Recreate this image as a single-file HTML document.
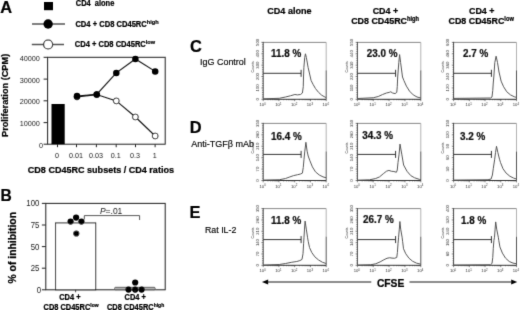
<!DOCTYPE html>
<html><head><meta charset="utf-8"><style>
html,body{margin:0;padding:0;background:#fff;width:520px;height:310px;overflow:hidden}
svg{display:block;font-family:"Liberation Sans", sans-serif}
</style></head><body>
<svg width="520" height="310" viewBox="0 0 520 310" fill="#000">
<defs><filter id="bl" x="0" y="0" width="520" height="310" filterUnits="userSpaceOnUse"><feConvolveMatrix order="3" kernelMatrix="0.0114 0.0841 0.0114 0.0841 0.6178 0.0841 0.0114 0.0841 0.0114" edgeMode="duplicate"/></filter></defs>
<rect width="520" height="310" fill="#fff"/>
<g filter="url(#bl)">
<text transform="translate(0.3,12.6) scale(1,1.04)" font-size="16.4" font-weight="bold" stroke="#000" stroke-width="0.22" fill="#000">A</text>
<rect x="44" y="2" width="9" height="8.2" fill="#000"/>
<line x1="32" y1="24" x2="65" y2="24" stroke="#555" stroke-width="1.4"/>
<circle cx="48.1" cy="24" r="4.7" fill="#000"/>
<line x1="31.8" y1="44.5" x2="64" y2="44.5" stroke="#555" stroke-width="1.4"/>
<circle cx="48.1" cy="44.5" r="4.5" fill="#fff" stroke="#000" stroke-width="1.1"/>
<text transform="translate(75.8,6.0) scale(1,1.1)" font-size="7.45" font-weight="bold" stroke="#000" stroke-width="0.22" fill="#000" xml:space="preserve">CD4  alone</text>
<text transform="translate(75.4,26.9) scale(1,1.1)" font-size="7.6" font-weight="bold" stroke="#000" stroke-width="0.22" fill="#000">CD4 + CD8 CD45RC<tspan font-size="5.6" dy="-2.4">high</tspan></text>
<text transform="translate(74.8,47.1) scale(1,1.1)" font-size="7.55" font-weight="bold" stroke="#000" stroke-width="0.22" fill="#000">CD4 + CD8 CD45RC<tspan font-size="5.6" dy="-2.4">low</tspan></text>
<rect x="47.6" y="57.3" width="117.6" height="86.9" fill="none" stroke="#222" stroke-width="1"/>
<line x1="43.6" y1="57.3" x2="47.6" y2="57.3" stroke="#222" stroke-width="1"/>
<text transform="translate(39.9,60.9) scale(1,1.1)" font-size="7.3" text-anchor="end" fill="#222">40000</text>
<line x1="43.6" y1="79.1" x2="47.6" y2="79.1" stroke="#222" stroke-width="1"/>
<text transform="translate(39.9,82.7) scale(1,1.1)" font-size="7.3" text-anchor="end" fill="#222">30000</text>
<line x1="43.6" y1="100.8" x2="47.6" y2="100.8" stroke="#222" stroke-width="1"/>
<text transform="translate(39.9,104.4) scale(1,1.1)" font-size="7.3" text-anchor="end" fill="#222">20000</text>
<line x1="43.6" y1="122.6" x2="47.6" y2="122.6" stroke="#222" stroke-width="1"/>
<text transform="translate(39.9,126.2) scale(1,1.1)" font-size="7.3" text-anchor="end" fill="#222">10000</text>
<line x1="43.6" y1="144.2" x2="47.6" y2="144.2" stroke="#222" stroke-width="1"/>
<text transform="translate(43.1,147.8) scale(1,1.1)" font-size="7.3" text-anchor="end" fill="#222">0</text>
<line x1="57.5" y1="144.2" x2="57.5" y2="147.2" stroke="#222" stroke-width="1"/>
<text transform="translate(57.1,157.9) scale(1,1.1)" font-size="7.2" text-anchor="middle" fill="#222">0</text>
<line x1="76.5" y1="144.2" x2="76.5" y2="147.2" stroke="#222" stroke-width="1"/>
<text transform="translate(76.1,157.9) scale(1,1.1)" font-size="7.2" text-anchor="middle" fill="#222">0.01</text>
<line x1="96.4" y1="144.2" x2="96.4" y2="147.2" stroke="#222" stroke-width="1"/>
<text transform="translate(96.0,157.9) scale(1,1.1)" font-size="7.2" text-anchor="middle" fill="#222">0.03</text>
<line x1="116.2" y1="144.2" x2="116.2" y2="147.2" stroke="#222" stroke-width="1"/>
<text transform="translate(115.8,157.9) scale(1,1.1)" font-size="7.2" text-anchor="middle" fill="#222">0.1</text>
<line x1="135.5" y1="144.2" x2="135.5" y2="147.2" stroke="#222" stroke-width="1"/>
<text transform="translate(135.1,157.9) scale(1,1.1)" font-size="7.2" text-anchor="middle" fill="#222">0.3</text>
<line x1="155.1" y1="144.2" x2="155.1" y2="147.2" stroke="#222" stroke-width="1"/>
<text transform="translate(154.7,157.9) scale(1,1.1)" font-size="7.2" text-anchor="middle" fill="#222">1</text>
<rect x="51.5" y="104" width="13.2" height="40.2" fill="#000"/>
<polyline points="77,96.9 96.7,94.6 116.3,100.9 135.4,117.0 155.2,136.0" fill="none" stroke="#111" stroke-width="1.1"/>
<polyline points="77,96.0 96.7,94.4 116.3,72.9 135.4,59.0 155.2,71.4" fill="none" stroke="#111" stroke-width="1.1"/>
<circle cx="77" cy="96.9" r="2.9" fill="#fff" stroke="#000" stroke-width="0.9"/>
<circle cx="96.7" cy="94.6" r="2.9" fill="#fff" stroke="#000" stroke-width="0.9"/>
<circle cx="116.3" cy="100.9" r="2.9" fill="#fff" stroke="#000" stroke-width="0.9"/>
<circle cx="135.4" cy="117.0" r="2.9" fill="#fff" stroke="#000" stroke-width="0.9"/>
<circle cx="155.2" cy="136.0" r="2.9" fill="#fff" stroke="#000" stroke-width="0.9"/>
<circle cx="77" cy="96.0" r="3.25" fill="#000"/>
<circle cx="96.7" cy="94.4" r="3.25" fill="#000"/>
<circle cx="116.3" cy="72.9" r="3.25" fill="#000"/>
<circle cx="135.4" cy="59.0" r="3.25" fill="#000"/>
<circle cx="155.2" cy="71.4" r="3.25" fill="#000"/>
<text transform="translate(27.8,172.5) scale(1,1.1)" font-size="9.05" font-weight="bold" stroke="#000" stroke-width="0.22" fill="#000">CD8 CD45RC subsets / CD4 ratios</text>
<text transform="translate(7.5,95.4) rotate(-90) scale(1,1.0)" font-size="9.2" font-weight="bold" stroke="#000" stroke-width="0.22" text-anchor="middle" fill="#000">Proliferation (CPM)</text>
<text transform="translate(0.6,200.6) scale(1,1.04)" font-size="15.6" font-weight="bold" stroke="#000" stroke-width="0.22" fill="#000">B</text>
<rect x="45.8" y="203.4" width="119.4" height="86.4" fill="none" stroke="#222" stroke-width="1"/>
<line x1="41.9" y1="203.4" x2="45.8" y2="203.4" stroke="#222" stroke-width="1"/>
<text transform="translate(39.3,206.4) scale(1,1.1)" font-size="7.8" text-anchor="end" fill="#222">100</text>
<line x1="41.9" y1="225.0" x2="45.8" y2="225.0" stroke="#222" stroke-width="1"/>
<text transform="translate(39.3,228.0) scale(1,1.1)" font-size="7.8" text-anchor="end" fill="#222">75</text>
<line x1="41.9" y1="246.6" x2="45.8" y2="246.6" stroke="#222" stroke-width="1"/>
<text transform="translate(39.3,249.6) scale(1,1.1)" font-size="7.8" text-anchor="end" fill="#222">50</text>
<line x1="41.9" y1="268.2" x2="45.8" y2="268.2" stroke="#222" stroke-width="1"/>
<text transform="translate(39.3,271.2) scale(1,1.1)" font-size="7.8" text-anchor="end" fill="#222">25</text>
<line x1="41.9" y1="289.8" x2="45.8" y2="289.8" stroke="#222" stroke-width="1"/>
<text transform="translate(41.2,292.8) scale(1,1.1)" font-size="7.8" text-anchor="end" fill="#222">0</text>
<rect x="55.6" y="222.9" width="40.1" height="66.9" fill="#fff" stroke="#222" stroke-width="1"/>
<rect x="114.6" y="287.3" width="40.6" height="2.5" rx="1" fill="#b0b0b0" stroke="#444" stroke-width="0.8"/>
<path d="M84.3,219.5V215.6H139.6V220" fill="none" stroke="#444" stroke-width="0.9"/>
<text transform="translate(99.9,213.6) scale(1,1.1)" font-size="8.5" fill="#222"><tspan font-style="italic">P</tspan>=.01</text>
<circle cx="70.6" cy="221.6" r="3.1" fill="#000"/>
<circle cx="81.4" cy="221.6" r="3.1" fill="#000"/>
<circle cx="76.1" cy="217.6" r="3.1" fill="#000"/>
<circle cx="76.3" cy="233.5" r="3.1" fill="#000"/>
<circle cx="135.2" cy="282.5" r="3.1" fill="#000"/>
<circle cx="128.5" cy="289.6" r="3.1" fill="#000"/>
<circle cx="135.2" cy="289.6" r="3.1" fill="#000"/>
<circle cx="141.6" cy="289.6" r="3.1" fill="#000"/>
<line x1="75.6" y1="289.8" x2="75.6" y2="292.3" stroke="#222" stroke-width="0.8"/>
<line x1="134.9" y1="289.8" x2="134.9" y2="292.3" stroke="#222" stroke-width="0.8"/>
<text transform="translate(69.9,300.4) scale(1,1.1)" font-size="7.45" font-weight="bold" stroke="#000" stroke-width="0.22" text-anchor="middle" fill="#000">CD4 +</text>
<text transform="translate(43.5,309.6) scale(1,1.1)" font-size="7.45" font-weight="bold" stroke="#000" stroke-width="0.22" fill="#000">CD8 CD45RC<tspan font-size="5" dy="-2.2">low</tspan></text>
<text transform="translate(135.2,300.4) scale(1,1.1)" font-size="7.45" font-weight="bold" stroke="#000" stroke-width="0.22" text-anchor="middle" fill="#000">CD4 +</text>
<text transform="translate(106.9,309.6) scale(1,1.1)" font-size="7.45" font-weight="bold" stroke="#000" stroke-width="0.22" fill="#000">CD8 CD45RC<tspan font-size="5" dy="-2.2">high</tspan></text>
<text transform="translate(15.5,247.8) rotate(-90) scale(1,1.0)" font-size="10.4" font-weight="bold" stroke="#000" stroke-width="0.22" text-anchor="middle" fill="#000">% of inhibition</text>
<text transform="translate(267.3,13.7) scale(1,1.1)" font-size="9.05" font-weight="bold" stroke="#000" stroke-width="0.22" fill="#000">CD4 alone</text>
<text transform="translate(372.7,13.6) scale(1,1.1)" font-size="8.9" font-weight="bold" stroke="#000" stroke-width="0.22" fill="#000">CD4 +</text>
<text transform="translate(351.2,24) scale(1,1.1)" font-size="8.9" font-weight="bold" stroke="#000" stroke-width="0.22" fill="#000">CD8 CD45RC<tspan font-size="5.7" dy="-2.7">high</tspan></text>
<text transform="translate(469,13.6) scale(1,1.1)" font-size="8.9" font-weight="bold" stroke="#000" stroke-width="0.22" fill="#000">CD4 +</text>
<text transform="translate(448.5,24) scale(1,1.1)" font-size="8.9" font-weight="bold" stroke="#000" stroke-width="0.22" fill="#000">CD8 CD45RC<tspan font-size="5.7" dy="-2.7">low</tspan></text>
<text transform="translate(189.9,51.8) scale(1,1.04)" font-size="16.4" font-weight="bold" stroke="#000" stroke-width="0.22" fill="#000">C</text>
<text transform="translate(200.1,65.1) scale(1,1.05)" font-size="8.95" stroke="#000" stroke-width="0.15" fill="#000">IgG Control</text>
<text transform="translate(189.7,132.6) scale(1,1.04)" font-size="16.4" font-weight="bold" stroke="#000" stroke-width="0.22" fill="#000">D</text>
<text transform="translate(191.2,147.4) scale(1,1.05)" font-size="9.05" stroke="#000" stroke-width="0.15" fill="#000">Anti-TGFβ mAb</text>
<text transform="translate(189.6,217.6) scale(1,1.04)" font-size="16.4" font-weight="bold" stroke="#000" stroke-width="0.22" fill="#000">E</text>
<text transform="translate(205,232.7) scale(1,1.05)" font-size="8.8" stroke="#000" stroke-width="0.15" fill="#000">Rat IL-2</text>
<line x1="266" y1="282" x2="371.3" y2="282" stroke="#666" stroke-width="1.3"/>
<line x1="409.5" y1="282" x2="513" y2="282" stroke="#666" stroke-width="1.3"/>
<path d="M261.9,282L268.2,279.4V284.6Z" fill="#000"/>
<path d="M517.2,282L511.2,279.6V284.4Z" fill="#000"/>
<text transform="translate(376.9,286.7) scale(1,1.1)" font-size="10.3" font-weight="bold" stroke="#000" stroke-width="0.22" fill="#000">CFSE</text>
<line x1="263.2" y1="42.4" x2="326.2" y2="42.4" stroke="#888" stroke-width="1"/>
<line x1="326.2" y1="42.4" x2="326.2" y2="70.3" stroke="#aaa" stroke-width="0.9"/>
<line x1="326.2" y1="70.3" x2="326.2" y2="99.3" stroke="#444" stroke-width="0.9"/>
<line x1="263.2" y1="41.9" x2="263.2" y2="99.3" stroke="#333" stroke-width="0.9"/>
<line x1="263.2" y1="99.3" x2="326.2" y2="99.3" stroke="#333" stroke-width="1"/>
<path d="M261.40,42.40H263.2M262.20,44.68H263.2M262.20,46.95H263.2M262.20,49.23H263.2M262.20,51.50H263.2M261.40,53.78H263.2M262.20,56.06H263.2M262.20,58.33H263.2M262.20,60.61H263.2M262.20,62.88H263.2M261.40,65.16H263.2M262.20,67.44H263.2M262.20,69.71H263.2M262.20,71.99H263.2M262.20,74.26H263.2M261.40,76.54H263.2M262.20,78.82H263.2M262.20,81.09H263.2M262.20,83.37H263.2M262.20,85.64H263.2M261.40,87.92H263.2M262.20,90.20H263.2M262.20,92.47H263.2M262.20,94.75H263.2M262.20,97.02H263.2M261.40,99.30H263.2" stroke="#333" stroke-width="0.6" fill="none"/>
<path d="M263.20,99.3v1.8M267.94,99.3v0.9M270.71,99.3v0.9M272.68,99.3v0.9M274.21,99.3v0.9M275.46,99.3v0.9M276.51,99.3v0.9M277.42,99.3v0.9M278.23,99.3v0.9M278.95,99.3v1.8M283.69,99.3v0.9M286.46,99.3v0.9M288.43,99.3v0.9M289.96,99.3v0.9M291.21,99.3v0.9M292.26,99.3v0.9M293.17,99.3v0.9M293.98,99.3v0.9M294.70,99.3v1.8M299.44,99.3v0.9M302.21,99.3v0.9M304.18,99.3v0.9M305.71,99.3v0.9M306.96,99.3v0.9M308.01,99.3v0.9M308.92,99.3v0.9M309.73,99.3v0.9M310.45,99.3v1.8M315.19,99.3v0.9M317.96,99.3v0.9M319.93,99.3v0.9M321.46,99.3v0.9M322.71,99.3v0.9M323.76,99.3v0.9M324.67,99.3v0.9M325.48,99.3v0.9M326.20,99.3v1.8" stroke="#333" stroke-width="0.6" fill="none"/>
<text transform="translate(258.90,99.30) rotate(-90)" font-size="4.2" text-anchor="middle" fill="#333">0</text>
<text transform="translate(258.90,87.92) rotate(-90)" font-size="4.2" text-anchor="middle" fill="#333">100</text>
<text transform="translate(258.90,76.54) rotate(-90)" font-size="4.2" text-anchor="middle" fill="#333">200</text>
<text transform="translate(258.90,65.16) rotate(-90)" font-size="4.2" text-anchor="middle" fill="#333">300</text>
<text transform="translate(258.90,53.78) rotate(-90)" font-size="4.2" text-anchor="middle" fill="#333">400</text>
<text transform="translate(258.90,42.40) rotate(-90)" font-size="4.2" text-anchor="middle" fill="#333">500</text>
<text transform="translate(253.60,66.87) rotate(-90)" font-size="3.5" text-anchor="middle" fill="#333">Counts</text>
<text x="262.60" y="106.30" font-size="4.2" text-anchor="middle" fill="#333">10<tspan font-size="2.8" dy="-1.6">0</tspan></text>
<text x="278.35" y="106.30" font-size="4.2" text-anchor="middle" fill="#333">10<tspan font-size="2.8" dy="-1.6">1</tspan></text>
<text x="294.10" y="106.30" font-size="4.2" text-anchor="middle" fill="#333">10<tspan font-size="2.8" dy="-1.6">2</tspan></text>
<text x="309.85" y="106.30" font-size="4.2" text-anchor="middle" fill="#333">10<tspan font-size="2.8" dy="-1.6">3</tspan></text>
<text x="325.60" y="106.30" font-size="4.2" text-anchor="middle" fill="#333">10<tspan font-size="2.8" dy="-1.6">4</tspan></text>
<polyline points="263.2,98.8 279.25,98.3 285.5,97 290.5,95.75 294.9,94.5 297.4,94.9 300.5,94.5 302.4,93 303.25,86.75 303.5,77 303.9,67.4 304.7,57.7 305.45,53.8 306.4,57.7 308.1,67.4 310.3,77 311.1,80.5 313,84.25 315.5,88.6 318.6,92.4 321.75,95.25 324.9,97 326.1,97.5" fill="none" stroke="#555" stroke-width="1" stroke-linejoin="round"/>
<line x1="263.2" y1="73.3" x2="301.1" y2="73.3" stroke="#333" stroke-width="1"/>
<line x1="301.1" y1="69.8" x2="301.1" y2="76.8" stroke="#333" stroke-width="1"/>
<text transform="translate(271.1,56.8) scale(1,1.03)" font-size="9.9" font-weight="bold" stroke="#111" stroke-width="0.22" fill="#111">11.8 %</text>
<line x1="357.4" y1="42.4" x2="420.8" y2="42.4" stroke="#888" stroke-width="1"/>
<line x1="420.8" y1="42.4" x2="420.8" y2="70.3" stroke="#aaa" stroke-width="0.9"/>
<line x1="420.8" y1="70.3" x2="420.8" y2="99.3" stroke="#444" stroke-width="0.9"/>
<line x1="357.4" y1="41.9" x2="357.4" y2="99.3" stroke="#333" stroke-width="0.9"/>
<line x1="357.4" y1="99.3" x2="420.8" y2="99.3" stroke="#333" stroke-width="1"/>
<path d="M355.60,42.40H357.4M356.40,44.68H357.4M356.40,46.95H357.4M356.40,49.23H357.4M356.40,51.50H357.4M355.60,53.78H357.4M356.40,56.06H357.4M356.40,58.33H357.4M356.40,60.61H357.4M356.40,62.88H357.4M355.60,65.16H357.4M356.40,67.44H357.4M356.40,69.71H357.4M356.40,71.99H357.4M356.40,74.26H357.4M355.60,76.54H357.4M356.40,78.82H357.4M356.40,81.09H357.4M356.40,83.37H357.4M356.40,85.64H357.4M355.60,87.92H357.4M356.40,90.20H357.4M356.40,92.47H357.4M356.40,94.75H357.4M356.40,97.02H357.4M355.60,99.30H357.4" stroke="#333" stroke-width="0.6" fill="none"/>
<path d="M357.40,99.3v1.8M362.17,99.3v0.9M364.96,99.3v0.9M366.94,99.3v0.9M368.48,99.3v0.9M369.73,99.3v0.9M370.79,99.3v0.9M371.71,99.3v0.9M372.52,99.3v0.9M373.25,99.3v1.8M378.02,99.3v0.9M380.81,99.3v0.9M382.79,99.3v0.9M384.33,99.3v0.9M385.58,99.3v0.9M386.64,99.3v0.9M387.56,99.3v0.9M388.37,99.3v0.9M389.10,99.3v1.8M393.87,99.3v0.9M396.66,99.3v0.9M398.64,99.3v0.9M400.18,99.3v0.9M401.43,99.3v0.9M402.49,99.3v0.9M403.41,99.3v0.9M404.22,99.3v0.9M404.95,99.3v1.8M409.72,99.3v0.9M412.51,99.3v0.9M414.49,99.3v0.9M416.03,99.3v0.9M417.28,99.3v0.9M418.34,99.3v0.9M419.26,99.3v0.9M420.07,99.3v0.9M420.80,99.3v1.8" stroke="#333" stroke-width="0.6" fill="none"/>
<text transform="translate(353.10,99.30) rotate(-90)" font-size="4.2" text-anchor="middle" fill="#333">0</text>
<text transform="translate(353.10,87.92) rotate(-90)" font-size="4.2" text-anchor="middle" fill="#333">110</text>
<text transform="translate(353.10,76.54) rotate(-90)" font-size="4.2" text-anchor="middle" fill="#333">220</text>
<text transform="translate(353.10,65.16) rotate(-90)" font-size="4.2" text-anchor="middle" fill="#333">330</text>
<text transform="translate(353.10,53.78) rotate(-90)" font-size="4.2" text-anchor="middle" fill="#333">440</text>
<text transform="translate(353.10,42.40) rotate(-90)" font-size="4.2" text-anchor="middle" fill="#333">550</text>
<text transform="translate(347.80,66.87) rotate(-90)" font-size="3.5" text-anchor="middle" fill="#333">Counts</text>
<text x="356.80" y="106.30" font-size="4.2" text-anchor="middle" fill="#333">10<tspan font-size="2.8" dy="-1.6">0</tspan></text>
<text x="372.65" y="106.30" font-size="4.2" text-anchor="middle" fill="#333">10<tspan font-size="2.8" dy="-1.6">1</tspan></text>
<text x="388.50" y="106.30" font-size="4.2" text-anchor="middle" fill="#333">10<tspan font-size="2.8" dy="-1.6">2</tspan></text>
<text x="404.35" y="106.30" font-size="4.2" text-anchor="middle" fill="#333">10<tspan font-size="2.8" dy="-1.6">3</tspan></text>
<text x="420.20" y="106.30" font-size="4.2" text-anchor="middle" fill="#333">10<tspan font-size="2.8" dy="-1.6">4</tspan></text>
<polyline points="357.4,98.5 373.25,97.75 378.25,96.5 382.6,94.5 386.4,93 389.25,92.4 390.75,91.75 392.6,93 395.1,93.6 396.75,92.4 397.25,86.75 397.7,77 398.8,62.5 399.6,54.6 400.6,62.5 402.5,77 403.9,80.5 406.4,86.1 409.5,91.1 413.25,94.9 417,97 420.1,97.75 420.8,97.9" fill="none" stroke="#555" stroke-width="1" stroke-linejoin="round"/>
<line x1="357.4" y1="73.3" x2="395.6" y2="73.3" stroke="#333" stroke-width="1"/>
<line x1="395.6" y1="69.8" x2="395.6" y2="76.8" stroke="#333" stroke-width="1"/>
<text transform="translate(366.8,56.5) scale(1,1.03)" font-size="9.9" font-weight="bold" stroke="#111" stroke-width="0.22" fill="#111">23.0 %</text>
<line x1="453.6" y1="42.4" x2="516.5" y2="42.4" stroke="#888" stroke-width="1"/>
<line x1="516.5" y1="42.4" x2="516.5" y2="70.3" stroke="#aaa" stroke-width="0.9"/>
<line x1="516.5" y1="70.3" x2="516.5" y2="99.3" stroke="#444" stroke-width="0.9"/>
<line x1="453.6" y1="41.9" x2="453.6" y2="99.3" stroke="#333" stroke-width="0.9"/>
<line x1="453.6" y1="99.3" x2="516.5" y2="99.3" stroke="#333" stroke-width="1"/>
<path d="M451.80,42.40H453.6M452.60,44.68H453.6M452.60,46.95H453.6M452.60,49.23H453.6M452.60,51.50H453.6M451.80,53.78H453.6M452.60,56.06H453.6M452.60,58.33H453.6M452.60,60.61H453.6M452.60,62.88H453.6M451.80,65.16H453.6M452.60,67.44H453.6M452.60,69.71H453.6M452.60,71.99H453.6M452.60,74.26H453.6M451.80,76.54H453.6M452.60,78.82H453.6M452.60,81.09H453.6M452.60,83.37H453.6M452.60,85.64H453.6M451.80,87.92H453.6M452.60,90.20H453.6M452.60,92.47H453.6M452.60,94.75H453.6M452.60,97.02H453.6M451.80,99.30H453.6" stroke="#333" stroke-width="0.6" fill="none"/>
<path d="M453.60,99.3v1.8M458.33,99.3v0.9M461.10,99.3v0.9M463.07,99.3v0.9M464.59,99.3v0.9M465.84,99.3v0.9M466.89,99.3v0.9M467.80,99.3v0.9M468.61,99.3v0.9M469.33,99.3v1.8M474.06,99.3v0.9M476.83,99.3v0.9M478.79,99.3v0.9M480.32,99.3v0.9M481.56,99.3v0.9M482.61,99.3v0.9M483.53,99.3v0.9M484.33,99.3v0.9M485.05,99.3v1.8M489.78,99.3v0.9M492.55,99.3v0.9M494.52,99.3v0.9M496.04,99.3v0.9M497.29,99.3v0.9M498.34,99.3v0.9M499.25,99.3v0.9M500.06,99.3v0.9M500.77,99.3v1.8M505.51,99.3v0.9M508.28,99.3v0.9M510.24,99.3v0.9M511.77,99.3v0.9M513.01,99.3v0.9M514.06,99.3v0.9M514.98,99.3v0.9M515.78,99.3v0.9M516.50,99.3v1.8" stroke="#333" stroke-width="0.6" fill="none"/>
<text transform="translate(449.30,99.30) rotate(-90)" font-size="4.2" text-anchor="middle" fill="#333">0</text>
<text transform="translate(449.30,87.92) rotate(-90)" font-size="4.2" text-anchor="middle" fill="#333">120</text>
<text transform="translate(449.30,76.54) rotate(-90)" font-size="4.2" text-anchor="middle" fill="#333">240</text>
<text transform="translate(449.30,65.16) rotate(-90)" font-size="4.2" text-anchor="middle" fill="#333">360</text>
<text transform="translate(449.30,53.78) rotate(-90)" font-size="4.2" text-anchor="middle" fill="#333">480</text>
<text transform="translate(449.30,42.40) rotate(-90)" font-size="4.2" text-anchor="middle" fill="#333">600</text>
<text transform="translate(444.00,66.87) rotate(-90)" font-size="3.5" text-anchor="middle" fill="#333">Counts</text>
<text x="453.00" y="106.30" font-size="4.2" text-anchor="middle" fill="#333">10<tspan font-size="2.8" dy="-1.6">0</tspan></text>
<text x="468.73" y="106.30" font-size="4.2" text-anchor="middle" fill="#333">10<tspan font-size="2.8" dy="-1.6">1</tspan></text>
<text x="484.45" y="106.30" font-size="4.2" text-anchor="middle" fill="#333">10<tspan font-size="2.8" dy="-1.6">2</tspan></text>
<text x="500.17" y="106.30" font-size="4.2" text-anchor="middle" fill="#333">10<tspan font-size="2.8" dy="-1.6">3</tspan></text>
<text x="515.90" y="106.30" font-size="4.2" text-anchor="middle" fill="#333">10<tspan font-size="2.8" dy="-1.6">4</tspan></text>
<polyline points="453.6,98.4 490.5,98 492,97 492.75,90.5 493.25,83 493.8,77 494.8,62.5 496.1,56.2 497.5,62.5 499.0,72 500.2,77 501.1,81.1 503.6,86.75 506.75,91.75 510.5,94.9 514.25,96.75 516.5,97.4" fill="none" stroke="#555" stroke-width="1" stroke-linejoin="round"/>
<line x1="453.6" y1="73.3" x2="491.4" y2="73.3" stroke="#333" stroke-width="1"/>
<line x1="491.4" y1="69.8" x2="491.4" y2="76.8" stroke="#333" stroke-width="1"/>
<text transform="translate(463.0,56.6) scale(1,1.03)" font-size="9.9" font-weight="bold" stroke="#111" stroke-width="0.22" fill="#111">2.7 %</text>
<line x1="263.2" y1="123.4" x2="326.2" y2="123.4" stroke="#888" stroke-width="1"/>
<line x1="326.2" y1="123.4" x2="326.2" y2="151.4" stroke="#aaa" stroke-width="0.9"/>
<line x1="326.2" y1="151.4" x2="326.2" y2="180.5" stroke="#444" stroke-width="0.9"/>
<line x1="263.2" y1="122.9" x2="263.2" y2="180.5" stroke="#333" stroke-width="0.9"/>
<line x1="263.2" y1="180.5" x2="326.2" y2="180.5" stroke="#333" stroke-width="1"/>
<path d="M261.40,123.40H263.2M262.20,125.68H263.2M262.20,127.97H263.2M262.20,130.25H263.2M262.20,132.54H263.2M261.40,134.82H263.2M262.20,137.10H263.2M262.20,139.39H263.2M262.20,141.67H263.2M262.20,143.96H263.2M261.40,146.24H263.2M262.20,148.52H263.2M262.20,150.81H263.2M262.20,153.09H263.2M262.20,155.38H263.2M261.40,157.66H263.2M262.20,159.94H263.2M262.20,162.23H263.2M262.20,164.51H263.2M262.20,166.80H263.2M261.40,169.08H263.2M262.20,171.36H263.2M262.20,173.65H263.2M262.20,175.93H263.2M262.20,178.22H263.2M261.40,180.50H263.2" stroke="#333" stroke-width="0.6" fill="none"/>
<path d="M263.20,180.5v1.8M267.94,180.5v0.9M270.71,180.5v0.9M272.68,180.5v0.9M274.21,180.5v0.9M275.46,180.5v0.9M276.51,180.5v0.9M277.42,180.5v0.9M278.23,180.5v0.9M278.95,180.5v1.8M283.69,180.5v0.9M286.46,180.5v0.9M288.43,180.5v0.9M289.96,180.5v0.9M291.21,180.5v0.9M292.26,180.5v0.9M293.17,180.5v0.9M293.98,180.5v0.9M294.70,180.5v1.8M299.44,180.5v0.9M302.21,180.5v0.9M304.18,180.5v0.9M305.71,180.5v0.9M306.96,180.5v0.9M308.01,180.5v0.9M308.92,180.5v0.9M309.73,180.5v0.9M310.45,180.5v1.8M315.19,180.5v0.9M317.96,180.5v0.9M319.93,180.5v0.9M321.46,180.5v0.9M322.71,180.5v0.9M323.76,180.5v0.9M324.67,180.5v0.9M325.48,180.5v0.9M326.20,180.5v1.8" stroke="#333" stroke-width="0.6" fill="none"/>
<text transform="translate(258.90,180.50) rotate(-90)" font-size="4.2" text-anchor="middle" fill="#333">0</text>
<text transform="translate(258.90,169.08) rotate(-90)" font-size="4.2" text-anchor="middle" fill="#333">70</text>
<text transform="translate(258.90,157.66) rotate(-90)" font-size="4.2" text-anchor="middle" fill="#333">140</text>
<text transform="translate(258.90,146.24) rotate(-90)" font-size="4.2" text-anchor="middle" fill="#333">210</text>
<text transform="translate(258.90,134.82) rotate(-90)" font-size="4.2" text-anchor="middle" fill="#333">280</text>
<text transform="translate(258.90,123.40) rotate(-90)" font-size="4.2" text-anchor="middle" fill="#333">350</text>
<text transform="translate(253.60,147.95) rotate(-90)" font-size="3.5" text-anchor="middle" fill="#333">Counts</text>
<text x="262.60" y="187.50" font-size="4.2" text-anchor="middle" fill="#333">10<tspan font-size="2.8" dy="-1.6">0</tspan></text>
<text x="278.35" y="187.50" font-size="4.2" text-anchor="middle" fill="#333">10<tspan font-size="2.8" dy="-1.6">1</tspan></text>
<text x="294.10" y="187.50" font-size="4.2" text-anchor="middle" fill="#333">10<tspan font-size="2.8" dy="-1.6">2</tspan></text>
<text x="309.85" y="187.50" font-size="4.2" text-anchor="middle" fill="#333">10<tspan font-size="2.8" dy="-1.6">3</tspan></text>
<text x="325.60" y="187.50" font-size="4.2" text-anchor="middle" fill="#333">10<tspan font-size="2.8" dy="-1.6">4</tspan></text>
<polyline points="263.2,180.1 279.25,179.75 285.5,178.5 289.9,176.9 293.6,175.6 297.4,174.75 300.5,174 302.4,173.1 303.25,167.5 304,159.2 304.8,151.1 305.9,142.3 307.1,151.1 308.2,156 309.7,160.2 312.4,166.9 315.5,171.9 319.25,175 323,176.9 326.1,177.75" fill="none" stroke="#555" stroke-width="1" stroke-linejoin="round"/>
<line x1="263.2" y1="154.4" x2="301.1" y2="154.4" stroke="#333" stroke-width="1"/>
<line x1="301.1" y1="150.9" x2="301.1" y2="157.9" stroke="#333" stroke-width="1"/>
<text transform="translate(270.90000000000003,140.0) scale(1,1.03)" font-size="9.9" font-weight="bold" stroke="#111" stroke-width="0.22" fill="#111">16.4 %</text>
<line x1="357.4" y1="123.4" x2="420.8" y2="123.4" stroke="#888" stroke-width="1"/>
<line x1="420.8" y1="123.4" x2="420.8" y2="151.4" stroke="#aaa" stroke-width="0.9"/>
<line x1="420.8" y1="151.4" x2="420.8" y2="180.5" stroke="#444" stroke-width="0.9"/>
<line x1="357.4" y1="122.9" x2="357.4" y2="180.5" stroke="#333" stroke-width="0.9"/>
<line x1="357.4" y1="180.5" x2="420.8" y2="180.5" stroke="#333" stroke-width="1"/>
<path d="M355.60,123.40H357.4M356.40,125.68H357.4M356.40,127.97H357.4M356.40,130.25H357.4M356.40,132.54H357.4M355.60,134.82H357.4M356.40,137.10H357.4M356.40,139.39H357.4M356.40,141.67H357.4M356.40,143.96H357.4M355.60,146.24H357.4M356.40,148.52H357.4M356.40,150.81H357.4M356.40,153.09H357.4M356.40,155.38H357.4M355.60,157.66H357.4M356.40,159.94H357.4M356.40,162.23H357.4M356.40,164.51H357.4M356.40,166.80H357.4M355.60,169.08H357.4M356.40,171.36H357.4M356.40,173.65H357.4M356.40,175.93H357.4M356.40,178.22H357.4M355.60,180.50H357.4" stroke="#333" stroke-width="0.6" fill="none"/>
<path d="M357.40,180.5v1.8M362.17,180.5v0.9M364.96,180.5v0.9M366.94,180.5v0.9M368.48,180.5v0.9M369.73,180.5v0.9M370.79,180.5v0.9M371.71,180.5v0.9M372.52,180.5v0.9M373.25,180.5v1.8M378.02,180.5v0.9M380.81,180.5v0.9M382.79,180.5v0.9M384.33,180.5v0.9M385.58,180.5v0.9M386.64,180.5v0.9M387.56,180.5v0.9M388.37,180.5v0.9M389.10,180.5v1.8M393.87,180.5v0.9M396.66,180.5v0.9M398.64,180.5v0.9M400.18,180.5v0.9M401.43,180.5v0.9M402.49,180.5v0.9M403.41,180.5v0.9M404.22,180.5v0.9M404.95,180.5v1.8M409.72,180.5v0.9M412.51,180.5v0.9M414.49,180.5v0.9M416.03,180.5v0.9M417.28,180.5v0.9M418.34,180.5v0.9M419.26,180.5v0.9M420.07,180.5v0.9M420.80,180.5v1.8" stroke="#333" stroke-width="0.6" fill="none"/>
<text transform="translate(353.10,180.50) rotate(-90)" font-size="4.2" text-anchor="middle" fill="#333">0</text>
<text transform="translate(353.10,169.08) rotate(-90)" font-size="4.2" text-anchor="middle" fill="#333">70</text>
<text transform="translate(353.10,157.66) rotate(-90)" font-size="4.2" text-anchor="middle" fill="#333">140</text>
<text transform="translate(353.10,146.24) rotate(-90)" font-size="4.2" text-anchor="middle" fill="#333">210</text>
<text transform="translate(353.10,134.82) rotate(-90)" font-size="4.2" text-anchor="middle" fill="#333">280</text>
<text transform="translate(353.10,123.40) rotate(-90)" font-size="4.2" text-anchor="middle" fill="#333">350</text>
<text transform="translate(347.80,147.95) rotate(-90)" font-size="3.5" text-anchor="middle" fill="#333">Counts</text>
<text x="356.80" y="187.50" font-size="4.2" text-anchor="middle" fill="#333">10<tspan font-size="2.8" dy="-1.6">0</tspan></text>
<text x="372.65" y="187.50" font-size="4.2" text-anchor="middle" fill="#333">10<tspan font-size="2.8" dy="-1.6">1</tspan></text>
<text x="388.50" y="187.50" font-size="4.2" text-anchor="middle" fill="#333">10<tspan font-size="2.8" dy="-1.6">2</tspan></text>
<text x="404.35" y="187.50" font-size="4.2" text-anchor="middle" fill="#333">10<tspan font-size="2.8" dy="-1.6">3</tspan></text>
<text x="420.20" y="187.50" font-size="4.2" text-anchor="middle" fill="#333">10<tspan font-size="2.8" dy="-1.6">4</tspan></text>
<polyline points="357.4,180.2 369.5,179.8 375.75,178.5 379.5,176.9 383.25,173.75 386.4,171.25 388.9,170.4 391.4,171.25 393.9,171.5 396.4,172.25 397.25,170 398,162.5 399,154.9 400,144.1 401.9,154.9 403.6,165 407,171.25 410.75,175.6 414.5,177.75 419.5,179.4 420.8,179.6" fill="none" stroke="#555" stroke-width="1" stroke-linejoin="round"/>
<line x1="357.4" y1="154.4" x2="395.6" y2="154.4" stroke="#333" stroke-width="1"/>
<line x1="395.6" y1="150.9" x2="395.6" y2="157.9" stroke="#333" stroke-width="1"/>
<text transform="translate(362.3,139.0) scale(1,1.03)" font-size="9.9" font-weight="bold" stroke="#111" stroke-width="0.22" fill="#111">34.3 %</text>
<line x1="453.6" y1="123.4" x2="516.5" y2="123.4" stroke="#888" stroke-width="1"/>
<line x1="516.5" y1="123.4" x2="516.5" y2="151.4" stroke="#aaa" stroke-width="0.9"/>
<line x1="516.5" y1="151.4" x2="516.5" y2="180.5" stroke="#444" stroke-width="0.9"/>
<line x1="453.6" y1="122.9" x2="453.6" y2="180.5" stroke="#333" stroke-width="0.9"/>
<line x1="453.6" y1="180.5" x2="516.5" y2="180.5" stroke="#333" stroke-width="1"/>
<path d="M451.80,123.40H453.6M452.60,125.68H453.6M452.60,127.97H453.6M452.60,130.25H453.6M452.60,132.54H453.6M451.80,134.82H453.6M452.60,137.10H453.6M452.60,139.39H453.6M452.60,141.67H453.6M452.60,143.96H453.6M451.80,146.24H453.6M452.60,148.52H453.6M452.60,150.81H453.6M452.60,153.09H453.6M452.60,155.38H453.6M451.80,157.66H453.6M452.60,159.94H453.6M452.60,162.23H453.6M452.60,164.51H453.6M452.60,166.80H453.6M451.80,169.08H453.6M452.60,171.36H453.6M452.60,173.65H453.6M452.60,175.93H453.6M452.60,178.22H453.6M451.80,180.50H453.6" stroke="#333" stroke-width="0.6" fill="none"/>
<path d="M453.60,180.5v1.8M458.33,180.5v0.9M461.10,180.5v0.9M463.07,180.5v0.9M464.59,180.5v0.9M465.84,180.5v0.9M466.89,180.5v0.9M467.80,180.5v0.9M468.61,180.5v0.9M469.33,180.5v1.8M474.06,180.5v0.9M476.83,180.5v0.9M478.79,180.5v0.9M480.32,180.5v0.9M481.56,180.5v0.9M482.61,180.5v0.9M483.53,180.5v0.9M484.33,180.5v0.9M485.05,180.5v1.8M489.78,180.5v0.9M492.55,180.5v0.9M494.52,180.5v0.9M496.04,180.5v0.9M497.29,180.5v0.9M498.34,180.5v0.9M499.25,180.5v0.9M500.06,180.5v0.9M500.77,180.5v1.8M505.51,180.5v0.9M508.28,180.5v0.9M510.24,180.5v0.9M511.77,180.5v0.9M513.01,180.5v0.9M514.06,180.5v0.9M514.98,180.5v0.9M515.78,180.5v0.9M516.50,180.5v1.8" stroke="#333" stroke-width="0.6" fill="none"/>
<text transform="translate(449.30,180.50) rotate(-90)" font-size="4.2" text-anchor="middle" fill="#333">0</text>
<text transform="translate(449.30,169.08) rotate(-90)" font-size="4.2" text-anchor="middle" fill="#333">30</text>
<text transform="translate(449.30,157.66) rotate(-90)" font-size="4.2" text-anchor="middle" fill="#333">60</text>
<text transform="translate(449.30,146.24) rotate(-90)" font-size="4.2" text-anchor="middle" fill="#333">90</text>
<text transform="translate(449.30,134.82) rotate(-90)" font-size="4.2" text-anchor="middle" fill="#333">120</text>
<text transform="translate(449.30,123.40) rotate(-90)" font-size="4.2" text-anchor="middle" fill="#333">150</text>
<text transform="translate(444.00,147.95) rotate(-90)" font-size="3.5" text-anchor="middle" fill="#333">Counts</text>
<text x="453.00" y="187.50" font-size="4.2" text-anchor="middle" fill="#333">10<tspan font-size="2.8" dy="-1.6">0</tspan></text>
<text x="468.73" y="187.50" font-size="4.2" text-anchor="middle" fill="#333">10<tspan font-size="2.8" dy="-1.6">1</tspan></text>
<text x="484.45" y="187.50" font-size="4.2" text-anchor="middle" fill="#333">10<tspan font-size="2.8" dy="-1.6">2</tspan></text>
<text x="500.17" y="187.50" font-size="4.2" text-anchor="middle" fill="#333">10<tspan font-size="2.8" dy="-1.6">3</tspan></text>
<text x="515.90" y="187.50" font-size="4.2" text-anchor="middle" fill="#333">10<tspan font-size="2.8" dy="-1.6">4</tspan></text>
<polyline points="453.6,180.1 488,179.75 491.1,179 492.4,175 493.25,168.75 494.7,159.2 495.5,152.7 496.5,146.3 497.9,152.7 499.5,159.2 500.5,162.5 503,168.75 506.1,173.1 509.9,176.25 513.6,178.1 516.5,179" fill="none" stroke="#555" stroke-width="1" stroke-linejoin="round"/>
<line x1="453.6" y1="154.4" x2="491.4" y2="154.4" stroke="#333" stroke-width="1"/>
<line x1="491.4" y1="150.9" x2="491.4" y2="157.9" stroke="#333" stroke-width="1"/>
<text transform="translate(460.1,139.5) scale(1,1.03)" font-size="9.9" font-weight="bold" stroke="#111" stroke-width="0.22" fill="#111">3.2 %</text>
<line x1="263.2" y1="208.6" x2="326.2" y2="208.6" stroke="#888" stroke-width="1"/>
<line x1="326.2" y1="208.6" x2="326.2" y2="236.6" stroke="#aaa" stroke-width="0.9"/>
<line x1="326.2" y1="236.6" x2="326.2" y2="265.3" stroke="#444" stroke-width="0.9"/>
<line x1="263.2" y1="208.1" x2="263.2" y2="265.3" stroke="#333" stroke-width="0.9"/>
<line x1="263.2" y1="265.3" x2="326.2" y2="265.3" stroke="#333" stroke-width="1"/>
<path d="M261.40,208.60H263.2M262.20,210.87H263.2M262.20,213.14H263.2M262.20,215.40H263.2M262.20,217.67H263.2M261.40,219.94H263.2M262.20,222.21H263.2M262.20,224.48H263.2M262.20,226.74H263.2M262.20,229.01H263.2M261.40,231.28H263.2M262.20,233.55H263.2M262.20,235.82H263.2M262.20,238.08H263.2M262.20,240.35H263.2M261.40,242.62H263.2M262.20,244.89H263.2M262.20,247.16H263.2M262.20,249.42H263.2M262.20,251.69H263.2M261.40,253.96H263.2M262.20,256.23H263.2M262.20,258.50H263.2M262.20,260.76H263.2M262.20,263.03H263.2M261.40,265.30H263.2" stroke="#333" stroke-width="0.6" fill="none"/>
<path d="M263.20,265.3v1.8M267.94,265.3v0.9M270.71,265.3v0.9M272.68,265.3v0.9M274.21,265.3v0.9M275.46,265.3v0.9M276.51,265.3v0.9M277.42,265.3v0.9M278.23,265.3v0.9M278.95,265.3v1.8M283.69,265.3v0.9M286.46,265.3v0.9M288.43,265.3v0.9M289.96,265.3v0.9M291.21,265.3v0.9M292.26,265.3v0.9M293.17,265.3v0.9M293.98,265.3v0.9M294.70,265.3v1.8M299.44,265.3v0.9M302.21,265.3v0.9M304.18,265.3v0.9M305.71,265.3v0.9M306.96,265.3v0.9M308.01,265.3v0.9M308.92,265.3v0.9M309.73,265.3v0.9M310.45,265.3v1.8M315.19,265.3v0.9M317.96,265.3v0.9M319.93,265.3v0.9M321.46,265.3v0.9M322.71,265.3v0.9M323.76,265.3v0.9M324.67,265.3v0.9M325.48,265.3v0.9M326.20,265.3v1.8" stroke="#333" stroke-width="0.6" fill="none"/>
<text transform="translate(258.90,265.30) rotate(-90)" font-size="4.2" text-anchor="middle" fill="#333">0</text>
<text transform="translate(258.90,253.96) rotate(-90)" font-size="4.2" text-anchor="middle" fill="#333">70</text>
<text transform="translate(258.90,242.62) rotate(-90)" font-size="4.2" text-anchor="middle" fill="#333">140</text>
<text transform="translate(258.90,231.28) rotate(-90)" font-size="4.2" text-anchor="middle" fill="#333">210</text>
<text transform="translate(258.90,219.94) rotate(-90)" font-size="4.2" text-anchor="middle" fill="#333">280</text>
<text transform="translate(258.90,208.60) rotate(-90)" font-size="4.2" text-anchor="middle" fill="#333">350</text>
<text transform="translate(253.60,232.98) rotate(-90)" font-size="3.5" text-anchor="middle" fill="#333">Counts</text>
<text x="262.60" y="272.30" font-size="4.2" text-anchor="middle" fill="#333">10<tspan font-size="2.8" dy="-1.6">0</tspan></text>
<text x="278.35" y="272.30" font-size="4.2" text-anchor="middle" fill="#333">10<tspan font-size="2.8" dy="-1.6">1</tspan></text>
<text x="294.10" y="272.30" font-size="4.2" text-anchor="middle" fill="#333">10<tspan font-size="2.8" dy="-1.6">2</tspan></text>
<text x="309.85" y="272.30" font-size="4.2" text-anchor="middle" fill="#333">10<tspan font-size="2.8" dy="-1.6">3</tspan></text>
<text x="325.60" y="272.30" font-size="4.2" text-anchor="middle" fill="#333">10<tspan font-size="2.8" dy="-1.6">4</tspan></text>
<polyline points="263.2,265.1 279.25,264.5 285.5,263.5 291.75,262.25 296.75,261.5 299.9,260.6 302,259.4 303,253.75 303.6,243.75 304,237.2 304.5,229.1 305.1,221.1 306.3,229.1 307.5,237.2 308.2,241.25 309.5,247.5 311.75,252.5 314.9,256.9 318.6,260 322.4,262.25 326.1,263.5" fill="none" stroke="#555" stroke-width="1" stroke-linejoin="round"/>
<line x1="263.2" y1="239.6" x2="301.1" y2="239.6" stroke="#333" stroke-width="1"/>
<line x1="301.1" y1="236.1" x2="301.1" y2="243.1" stroke="#333" stroke-width="1"/>
<text transform="translate(271.1,223.9) scale(1,1.03)" font-size="9.9" font-weight="bold" stroke="#111" stroke-width="0.22" fill="#111">11.8 %</text>
<line x1="357.4" y1="208.6" x2="420.8" y2="208.6" stroke="#888" stroke-width="1"/>
<line x1="420.8" y1="208.6" x2="420.8" y2="236.6" stroke="#aaa" stroke-width="0.9"/>
<line x1="420.8" y1="236.6" x2="420.8" y2="265.3" stroke="#444" stroke-width="0.9"/>
<line x1="357.4" y1="208.1" x2="357.4" y2="265.3" stroke="#333" stroke-width="0.9"/>
<line x1="357.4" y1="265.3" x2="420.8" y2="265.3" stroke="#333" stroke-width="1"/>
<path d="M355.60,208.60H357.4M356.40,210.87H357.4M356.40,213.14H357.4M356.40,215.40H357.4M356.40,217.67H357.4M355.60,219.94H357.4M356.40,222.21H357.4M356.40,224.48H357.4M356.40,226.74H357.4M356.40,229.01H357.4M355.60,231.28H357.4M356.40,233.55H357.4M356.40,235.82H357.4M356.40,238.08H357.4M356.40,240.35H357.4M355.60,242.62H357.4M356.40,244.89H357.4M356.40,247.16H357.4M356.40,249.42H357.4M356.40,251.69H357.4M355.60,253.96H357.4M356.40,256.23H357.4M356.40,258.50H357.4M356.40,260.76H357.4M356.40,263.03H357.4M355.60,265.30H357.4" stroke="#333" stroke-width="0.6" fill="none"/>
<path d="M357.40,265.3v1.8M362.17,265.3v0.9M364.96,265.3v0.9M366.94,265.3v0.9M368.48,265.3v0.9M369.73,265.3v0.9M370.79,265.3v0.9M371.71,265.3v0.9M372.52,265.3v0.9M373.25,265.3v1.8M378.02,265.3v0.9M380.81,265.3v0.9M382.79,265.3v0.9M384.33,265.3v0.9M385.58,265.3v0.9M386.64,265.3v0.9M387.56,265.3v0.9M388.37,265.3v0.9M389.10,265.3v1.8M393.87,265.3v0.9M396.66,265.3v0.9M398.64,265.3v0.9M400.18,265.3v0.9M401.43,265.3v0.9M402.49,265.3v0.9M403.41,265.3v0.9M404.22,265.3v0.9M404.95,265.3v1.8M409.72,265.3v0.9M412.51,265.3v0.9M414.49,265.3v0.9M416.03,265.3v0.9M417.28,265.3v0.9M418.34,265.3v0.9M419.26,265.3v0.9M420.07,265.3v0.9M420.80,265.3v1.8" stroke="#333" stroke-width="0.6" fill="none"/>
<text transform="translate(353.10,265.30) rotate(-90)" font-size="4.2" text-anchor="middle" fill="#333">0</text>
<text transform="translate(353.10,253.96) rotate(-90)" font-size="4.2" text-anchor="middle" fill="#333">70</text>
<text transform="translate(353.10,242.62) rotate(-90)" font-size="4.2" text-anchor="middle" fill="#333">140</text>
<text transform="translate(353.10,231.28) rotate(-90)" font-size="4.2" text-anchor="middle" fill="#333">210</text>
<text transform="translate(353.10,219.94) rotate(-90)" font-size="4.2" text-anchor="middle" fill="#333">280</text>
<text transform="translate(353.10,208.60) rotate(-90)" font-size="4.2" text-anchor="middle" fill="#333">350</text>
<text transform="translate(347.80,232.98) rotate(-90)" font-size="3.5" text-anchor="middle" fill="#333">Counts</text>
<text x="356.80" y="272.30" font-size="4.2" text-anchor="middle" fill="#333">10<tspan font-size="2.8" dy="-1.6">0</tspan></text>
<text x="372.65" y="272.30" font-size="4.2" text-anchor="middle" fill="#333">10<tspan font-size="2.8" dy="-1.6">1</tspan></text>
<text x="388.50" y="272.30" font-size="4.2" text-anchor="middle" fill="#333">10<tspan font-size="2.8" dy="-1.6">2</tspan></text>
<text x="404.35" y="272.30" font-size="4.2" text-anchor="middle" fill="#333">10<tspan font-size="2.8" dy="-1.6">3</tspan></text>
<text x="420.20" y="272.30" font-size="4.2" text-anchor="middle" fill="#333">10<tspan font-size="2.8" dy="-1.6">4</tspan></text>
<polyline points="357.4,265.1 370.75,264.75 375.75,263.75 380.1,261.9 383.9,259.75 387,258.25 389.75,257.75 392,258.1 394.5,258.25 396.75,257.5 397.4,252.5 398,243.75 398.6,237.2 399.3,229.1 399.9,221.5 400.7,229.1 402.1,237.2 402.6,241.25 403.5,248.75 405.75,253.75 408.9,258.1 412.6,261.25 416.4,263.1 420.1,264 420.8,264.2" fill="none" stroke="#555" stroke-width="1" stroke-linejoin="round"/>
<line x1="357.4" y1="239.6" x2="395.6" y2="239.6" stroke="#333" stroke-width="1"/>
<line x1="395.6" y1="236.1" x2="395.6" y2="243.1" stroke="#333" stroke-width="1"/>
<text transform="translate(363.0,223.4) scale(1,1.03)" font-size="9.9" font-weight="bold" stroke="#111" stroke-width="0.22" fill="#111">26.7 %</text>
<line x1="453.6" y1="208.6" x2="516.5" y2="208.6" stroke="#888" stroke-width="1"/>
<line x1="516.5" y1="208.6" x2="516.5" y2="236.6" stroke="#aaa" stroke-width="0.9"/>
<line x1="516.5" y1="236.6" x2="516.5" y2="265.3" stroke="#444" stroke-width="0.9"/>
<line x1="453.6" y1="208.1" x2="453.6" y2="265.3" stroke="#333" stroke-width="0.9"/>
<line x1="453.6" y1="265.3" x2="516.5" y2="265.3" stroke="#333" stroke-width="1"/>
<path d="M451.80,208.60H453.6M452.60,210.87H453.6M452.60,213.14H453.6M452.60,215.40H453.6M452.60,217.67H453.6M451.80,219.94H453.6M452.60,222.21H453.6M452.60,224.48H453.6M452.60,226.74H453.6M452.60,229.01H453.6M451.80,231.28H453.6M452.60,233.55H453.6M452.60,235.82H453.6M452.60,238.08H453.6M452.60,240.35H453.6M451.80,242.62H453.6M452.60,244.89H453.6M452.60,247.16H453.6M452.60,249.42H453.6M452.60,251.69H453.6M451.80,253.96H453.6M452.60,256.23H453.6M452.60,258.50H453.6M452.60,260.76H453.6M452.60,263.03H453.6M451.80,265.30H453.6" stroke="#333" stroke-width="0.6" fill="none"/>
<path d="M453.60,265.3v1.8M458.33,265.3v0.9M461.10,265.3v0.9M463.07,265.3v0.9M464.59,265.3v0.9M465.84,265.3v0.9M466.89,265.3v0.9M467.80,265.3v0.9M468.61,265.3v0.9M469.33,265.3v1.8M474.06,265.3v0.9M476.83,265.3v0.9M478.79,265.3v0.9M480.32,265.3v0.9M481.56,265.3v0.9M482.61,265.3v0.9M483.53,265.3v0.9M484.33,265.3v0.9M485.05,265.3v1.8M489.78,265.3v0.9M492.55,265.3v0.9M494.52,265.3v0.9M496.04,265.3v0.9M497.29,265.3v0.9M498.34,265.3v0.9M499.25,265.3v0.9M500.06,265.3v0.9M500.77,265.3v1.8M505.51,265.3v0.9M508.28,265.3v0.9M510.24,265.3v0.9M511.77,265.3v0.9M513.01,265.3v0.9M514.06,265.3v0.9M514.98,265.3v0.9M515.78,265.3v0.9M516.50,265.3v1.8" stroke="#333" stroke-width="0.6" fill="none"/>
<text transform="translate(449.30,265.30) rotate(-90)" font-size="4.2" text-anchor="middle" fill="#333">0</text>
<text transform="translate(449.30,253.96) rotate(-90)" font-size="4.2" text-anchor="middle" fill="#333">80</text>
<text transform="translate(449.30,242.62) rotate(-90)" font-size="4.2" text-anchor="middle" fill="#333">160</text>
<text transform="translate(449.30,231.28) rotate(-90)" font-size="4.2" text-anchor="middle" fill="#333">240</text>
<text transform="translate(449.30,219.94) rotate(-90)" font-size="4.2" text-anchor="middle" fill="#333">320</text>
<text transform="translate(449.30,208.60) rotate(-90)" font-size="4.2" text-anchor="middle" fill="#333">400</text>
<text transform="translate(444.00,232.98) rotate(-90)" font-size="3.5" text-anchor="middle" fill="#333">Counts</text>
<text x="453.00" y="272.30" font-size="4.2" text-anchor="middle" fill="#333">10<tspan font-size="2.8" dy="-1.6">0</tspan></text>
<text x="468.73" y="272.30" font-size="4.2" text-anchor="middle" fill="#333">10<tspan font-size="2.8" dy="-1.6">1</tspan></text>
<text x="484.45" y="272.30" font-size="4.2" text-anchor="middle" fill="#333">10<tspan font-size="2.8" dy="-1.6">2</tspan></text>
<text x="500.17" y="272.30" font-size="4.2" text-anchor="middle" fill="#333">10<tspan font-size="2.8" dy="-1.6">3</tspan></text>
<text x="515.90" y="272.30" font-size="4.2" text-anchor="middle" fill="#333">10<tspan font-size="2.8" dy="-1.6">4</tspan></text>
<polyline points="453.6,265.1 490.5,264.75 492,263.5 492.75,257.5 493.25,248.75 493.9,240.5 494.5,237.2 495.1,229.1 495.7,221.9 496.7,229.1 498.3,237.2 498.8,240.5 499.9,246.9 502.4,253.1 505.5,258.1 509.25,261.5 513,263.1 516.5,263.75" fill="none" stroke="#555" stroke-width="1" stroke-linejoin="round"/>
<line x1="453.6" y1="239.6" x2="491.4" y2="239.6" stroke="#333" stroke-width="1"/>
<line x1="491.4" y1="236.1" x2="491.4" y2="243.1" stroke="#333" stroke-width="1"/>
<text transform="translate(460.90000000000003,223.9) scale(1,1.03)" font-size="9.9" font-weight="bold" stroke="#111" stroke-width="0.22" fill="#111">1.8 %</text>
</g>
</svg>
</body></html>
